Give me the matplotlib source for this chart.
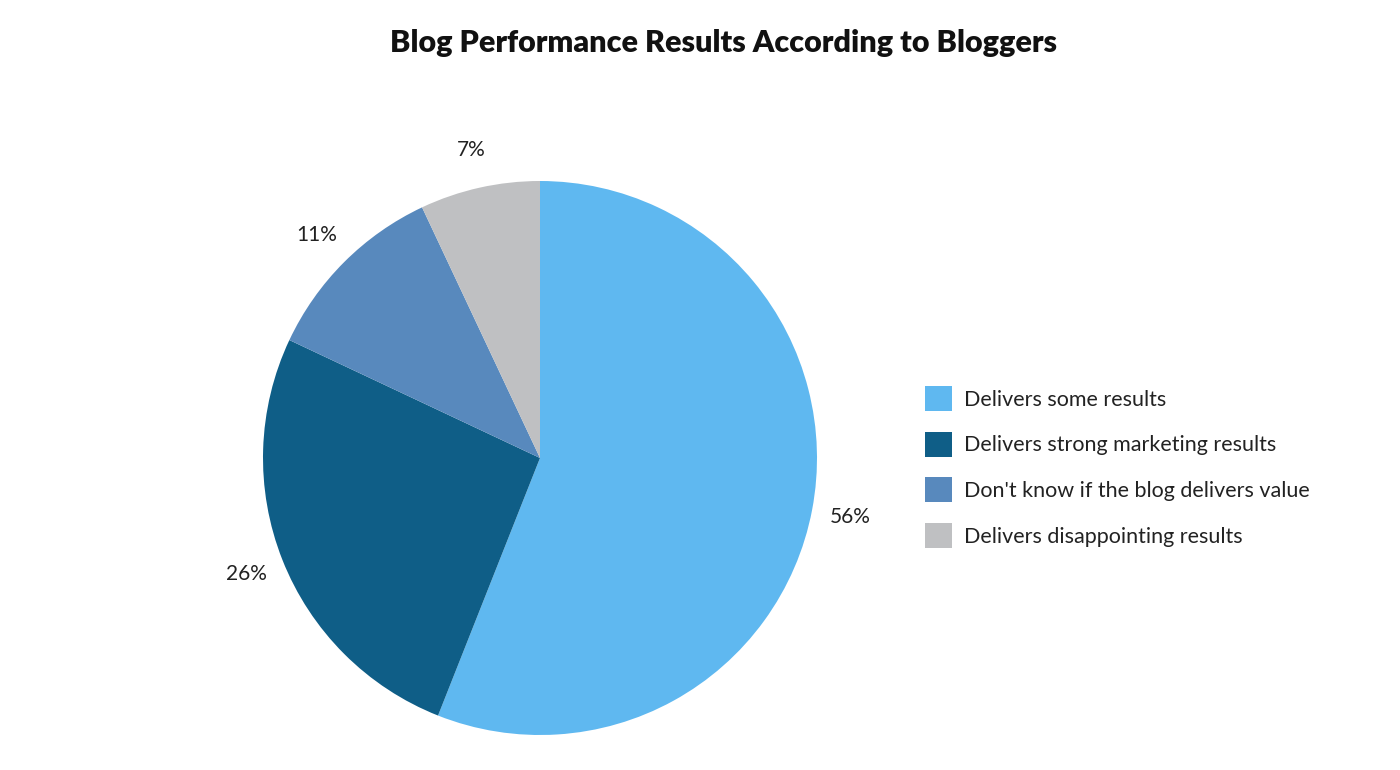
import matplotlib
matplotlib.use("Agg")
import matplotlib.pyplot as plt
from matplotlib.patches import Patch
import numpy as np

plt.rcParams['font.family'] = ['Lato', 'DejaVu Sans']

categories = ["Delivers some results", "Delivers strong marketing results",
              "Don't know if the blog delivers value", "Delivers disappointing results"]
values = [56, 26, 11, 7]
colors = ["#5FB8F0", "#0F5E87", "#5889BD", "#BFC0C2"]
title = "Blog Performance Results According to Bloggers"

fig = plt.figure(figsize=(14, 7.7), dpi=100)
ax = fig.add_axes([(540 - 277) / 1400, (770 - 735) / 770, 554 / 1400, 554 / 770])
wedges, texts = ax.pie(values, colors=colors, startangle=90, counterclock=False,
                       labels=[f"{v}%" for v in values], labeldistance=1.14,
                       textprops=dict(fontsize=15, color="#222222"),
                       wedgeprops=dict(linewidth=0))
for t in texts:
    t.set_horizontalalignment('center')
ax.set_aspect('equal')
ax.set_xlim(-1, 1)
ax.set_ylim(-1, 1)

fig.text(723 / 1400, 1 - 43 / 770, title, ha='center', va='center',
         fontsize=22, fontweight='heavy', color='#111111')

handles = [Patch(facecolor=c, edgecolor='none') for c in colors]
leg = fig.legend(handles, categories, loc='center left',
                 bbox_to_anchor=(906 / 1400, 1 - 467 / 770), frameon=False,
                 fontsize=15.5, handlelength=1.25, handleheight=1.4,
                 handletextpad=0.55, labelspacing=0.97, labelcolor='#222222')

fig.savefig("out.png", dpi=100, facecolor='white')
